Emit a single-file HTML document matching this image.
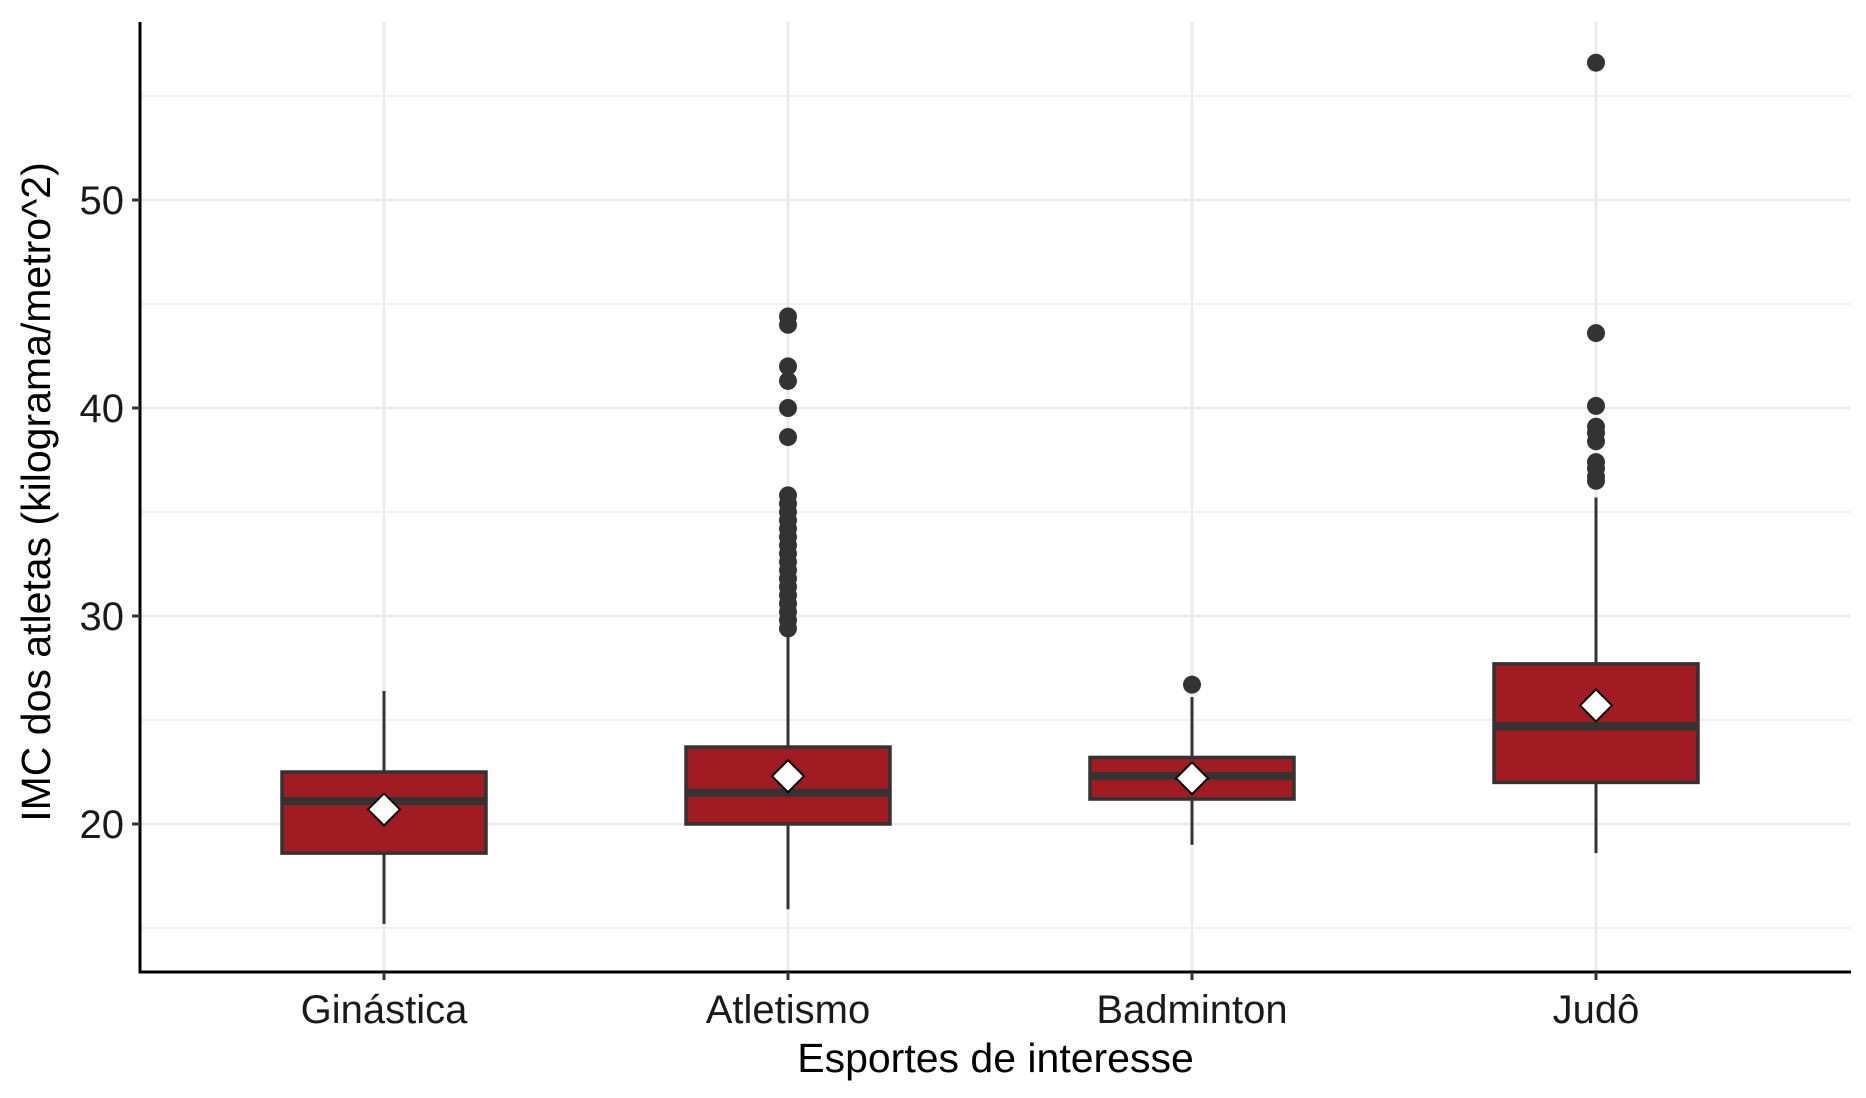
<!DOCTYPE html>
<html><head><meta charset="utf-8">
<style>
html,body{margin:0;padding:0;background:#fff;}
svg{display:block;font-family:"Liberation Sans",Arial,sans-serif;}
</style></head>
<body>
<svg id="chart" width="1866" height="1098" viewBox="0 0 1866 1098" xmlns="http://www.w3.org/2000/svg">
<g id="grid"></g>
<g id="marks"></g>
<g id="axes"></g>
</svg>
<script>
const categories = ["Ginástica","Atletismo","Badminton","Judô"];
const whiskerLow = [15.2, 15.9, 19.0, 18.6];
const q1 = [18.6, 20.0, 21.2, 22.0];
const medians = [21.1, 21.5, 22.3, 24.7];
const q3 = [22.5, 23.7, 23.2, 27.7];
const whiskerHigh = [26.4, 29.1, 26.1, 35.7];
const means = [20.7, 22.3, 22.2, 25.7];
const outliersGin = [];
const outliersAtl = [44.4,44.0,42.0,41.3,40.0,38.6,35.8,35.4,35.0,34.6,34.2,33.8,33.4,33.0,32.6,32.2,31.8,31.4,31.0,30.6,30.2,29.8,29.4];
const outliersBad = [26.7];
const outliersJud = [56.6,43.6,40.1,39.1,38.8,38.4,37.4,37.1,36.7,36.5];
const outliers = [outliersGin, outliersAtl, outliersBad, outliersJud];
const yTicks = [20,30,40,50];
const yMinor = [15,25,35,45,55];

const NS="http://www.w3.org/2000/svg";
const L=140,R=1851,T=22,B=972;
function y(v){return 824-(v-20)*20.8;}
function x(i){return 384+i*404;}
const HW=102;
function el(tag,attrs,parent){const e=document.createElementNS(NS,tag);for(const k in attrs)e.setAttribute(k,attrs[k]);parent.appendChild(e);return e;}
const grid=document.getElementById('grid'),marks=document.getElementById('marks'),axes=document.getElementById('axes');

yMinor.forEach(v=>{const l=el('line',{x1:L,x2:R,y1:y(v),y2:y(v),stroke:'#ebebeb','stroke-width':1.5},grid);

});
yTicks.forEach(v=>{const l=el('line',{x1:L,x2:R,y1:y(v),y2:y(v),stroke:'#ebebeb','stroke-width':3},grid);

});
categories.forEach((c,i)=>{const l=el('line',{x1:x(i),x2:x(i),y1:T,y2:B,stroke:'#ebebeb','stroke-width':3},grid);

});

categories.forEach((c,i)=>{
  const g=el('g',{},marks);
  
  
  const cx=x(i);
  el('line',{x1:cx,x2:cx,y1:y(whiskerLow[i]),y2:y(q1[i]),stroke:'#333','stroke-width':3},g);
  el('line',{x1:cx,x2:cx,y1:y(q3[i]),y2:y(whiskerHigh[i]),stroke:'#333','stroke-width':3},g);
  const r=el('rect',{x:cx-HW,y:y(q3[i]),width:2*HW,height:y(q1[i])-y(q3[i]),fill:'#A11B22',stroke:'#333','stroke-width':3.5},g);
  
  
  el('line',{x1:cx-HW,x2:cx+HW,y1:y(medians[i]),y2:y(medians[i]),stroke:'#333','stroke-width':8},g);
  outliers[i].forEach(v=>{const p=el('circle',{cx:cx,cy:y(v),r:9,fill:'#333'},g);
    
    });
  const my=y(means[i]);
  const d=el('polygon',{points:`${cx},${my-16} ${cx+16},${my} ${cx},${my+16} ${cx-16},${my}`,fill:'#fff',stroke:'#000','stroke-width':2},g);
  
  
});

el('line',{x1:L,x2:L,y1:T,y2:B+1.5,stroke:'#000','stroke-width':3},axes);
el('line',{x1:L-1.5,x2:R,y1:B,y2:B,stroke:'#000','stroke-width':3},axes);
yTicks.forEach(v=>{
  el('line',{x1:L-8,x2:L,y1:y(v),y2:y(v),stroke:'#333','stroke-width':3},axes);
  const t=el('text',{x:L-16,y:y(v)+14,'text-anchor':'end','font-size':40,fill:'#1a1a1a'},axes);
  t.textContent=v;
  
  
});
categories.forEach((c,i)=>{
  el('line',{x1:x(i),x2:x(i),y1:B,y2:B+8,stroke:'#333','stroke-width':3},axes);
  const t=el('text',{x:x(i),y:1023,'text-anchor':'middle','font-size':40,fill:'#1a1a1a'},axes);
  t.textContent=c;
  
  
});
const xt=el('text',{x:(L+R)/2,y:1072,'text-anchor':'middle','font-size':41,fill:'#000'},axes);
xt.textContent='Esportes de interesse';


const yt=el('text',{x:0,y:0,'text-anchor':'middle','font-size':41,fill:'#000',transform:`translate(50,492) rotate(-90)`},axes);
yt.textContent='IMC dos atletas (kilograma/metro^2)';


</script>
</body></html>
